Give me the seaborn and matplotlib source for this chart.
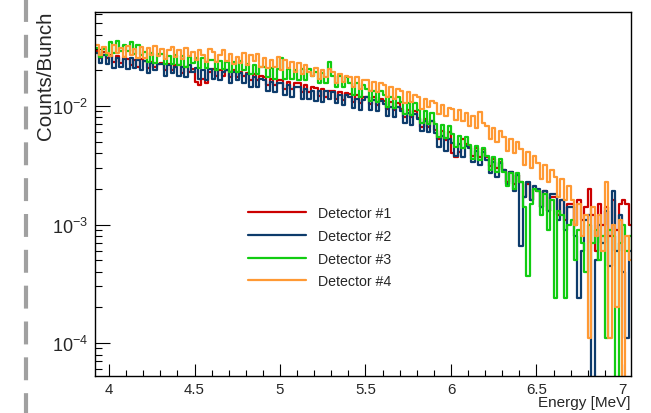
import numpy as np
import pandas as pd
import matplotlib
matplotlib.use("Agg")
import matplotlib.pyplot as plt
import matplotlib.ticker as mticker
from matplotlib.lines import Line2D
import seaborn as sns

# binning of the spectra (MeV)
bin_start = 3.92
bin_width = 0.02

# counts/bunch per bin, in units of 1e-3
det1 = [
    29, 25.5, 28.5, 25.5,
    27, 23.5, 26.5, 23, 26,
    25, 22, 24.5, 21.5, 25,
    24, 21, 23.5, 21.5, 22.5,
    23, 20, 22.5, 20, 22,
    22, 19, 21.5, 19.5, 20.5,
    16, 15, 17, 15.5, 19.5,
    20.5, 18, 20, 18, 20,
    17.5, 20, 17.5, 19.5, 18,
    19, 16.5, 18.5, 16.5, 18,
    17.5, 15, 17, 15, 16.5,
    16.5, 14, 16, 14, 15.5,
    15.5, 13, 15, 13, 14.5,
    14.3, 12.2, 14, 12, 13.5,
    13.4, 11.5, 13, 11.3, 12.8,
    12.6, 10.8, 12.3, 10.6, 12,
    12, 10.4, 11.8, 10.2, 11.5,
    11, 9.4, 10.8, 9.2, 10.5,
    9.5, 8.1, 9.3, 8, 9.1,
    7.9, 6.7, 7.7, 6.6, 7.5,
    6.3, 5.3, 6.1, 5.2, 6,
    4, 3.7, 4.1, 5.3, 4.8,
    4.6, 3.8, 4.4, 3.7, 4.3,
    3.7, 3.1, 3.6, 3, 3.4,
    2.9, 2.3, 2.8, 2.2, 2.6,
    2.3, 1.7, 2.2, 1.6, 2,
    1.9, 1.4, 1.9, 1.3, 1.7,
    1.7, 1.2, 1.6, 1.1, 1.5,
    1.5, 1.0, 1.6, 1.1, 1.4,
    2.0, 1.2, 0.6, 1.5, 1.0,
    1.4, 0.8, 1.6, 0.9, 1.5,
    1.6, 1.5, 1.0,
]
det2 = [
    28, 23, 27, 22.5,
    26.5, 21, 25.5, 21.5, 25,
    20.5, 25.5, 21, 24.5, 20,
    24, 19, 23, 20, 22.5,
    22.5, 18, 22, 19, 21.5,
    18, 21.5, 17.5, 22, 19.5,
    21, 17, 20, 16.5, 20.5,
    17, 20.5, 16.5, 19.5, 20,
    15.5, 19.5, 16.5, 19, 15.5,
    18.5, 14.5, 17.5, 14.5, 17,
    16.5, 13.5, 16, 13, 15.5,
    15.5, 12.5, 15, 12, 14.5,
    14.5, 11.5, 14, 11.5, 13.5,
    11, 13.5, 10.8, 13.5, 11.5,
    13, 10.5, 12.5, 10.2, 12.5,
    12, 9.6, 11.5, 9.3, 11.2,
    11.8, 9.3, 11.2, 9.1, 11,
    10.4, 8.2, 9.8, 8, 9.9,
    9, 7.2, 8.7, 6.9, 8.6,
    7.8, 6.2, 7.5, 6, 7.4,
    5.9, 4.5, 5.6, 4.2, 5.3,
    4.9, 3.8, 4.8, 3.7, 4.6,
    4.4, 3.4, 4.2, 3.2, 4.1,
    3.5, 2.7, 3.4, 2.5, 3.3,
    2.9, 2.2, 2.8, 1.9, 2.6,
    0.66, 1.7, 2.3, 1.6, 2.1,
    2.0, 1.4, 1.9, 1.3, 1.8,
    1.8, 1.1, 1.6, 0.9, 1.4,
    1.4, 0.8, 0.24, 0.6, 1.1,
    1.2, 0, 0.5, 1.0, 0.7,
    1.3, 0.45, 1.9, 0.6, 1.2,
    0.4, 0.11, 0.6,
]
det3 = [
    31, 26, 30.5, 27,
    34.5, 28, 35.5, 29, 33,
    29, 35, 27.5, 33, 27,
    28.5, 23.5, 28, 23, 27.5,
    27.5, 22.5, 26.5, 22.5, 27,
    22, 26.5, 21.5, 26, 23,
    25.5, 21, 25.5, 21, 24.5,
    24.5, 20, 24, 20.5, 23.5,
    19.5, 23.5, 19.5, 24, 20,
    22.5, 18.5, 22, 18.5, 21.5,
    21.5, 17.5, 21, 17, 20.5,
    25.5, 17, 20.5, 17, 20,
    16.5, 20.5, 16.5, 20.5, 18,
    19.5, 15.5, 19, 15.5, 23.5,
    18, 14.5, 18, 14.5, 17.5,
    15.5, 12.5, 15.5, 12, 15,
    14, 11, 13.5, 10.8, 13.5,
    12.5, 9.8, 12, 9.6, 11.8,
    10.8, 8.5, 10.5, 8.4, 10.5,
    9.2, 7.2, 9, 7, 8.8,
    7.1, 5.5, 6.9, 5.4, 6.8,
    5.8, 4.5, 5.6, 4.4, 5.5,
    4.7, 3.6, 4.6, 3.5, 4.4,
    3.8, 2.9, 3.7, 2.8, 3.6,
    2.8, 2.1, 2.7, 2.0, 2.7,
    2.3, 1.4, 0.37, 1.5, 2.0,
    1.9, 1.2, 1.8, 0.9, 1.6,
    0.24, 1.3, 1.2, 0.24, 1.0,
    1.1, 0.5, 0.9, 0.7, 0.4,
    1.0, 0.7, 0.9, 0.5, 0.8,
    0.11, 0.9, 0.8, 0, 0.7,
    1.0, 0.6, 0.8,
]
det4 = [
    33, 27, 31.5, 28,
    26.5, 32.5, 28, 31, 26,
    32, 27, 30.5, 25.5, 31.5,
    25.5, 31, 27, 32, 26.5,
    30.5, 25, 29.5, 31.5, 26,
    29.5, 25, 31, 26.5, 28.5,
    24.5, 29.5, 27, 23.5, 30,
    28.5, 23.5, 27, 29.5, 24,
    27.5, 22.5, 26, 23, 28,
    22, 27, 24, 27.5, 21.5,
    25.5, 21, 24.5, 21.5, 26,
    20, 24.5, 21, 23.5, 19.5,
    23, 18.5, 22, 19.5, 18,
    21, 17, 20, 17.5, 20.5,
    19.5, 15.5, 18.5, 16, 18,
    17.5, 14.5, 17.5, 14, 16.5,
    16.5, 13.5, 16, 13, 15.5,
    15, 12, 14.5, 11.5, 14,
    13.5, 10.5, 13, 10.8, 12.5,
    12, 9.5, 11.5, 9.8, 11,
    10.5, 8.5, 10.2, 8.2, 9.6,
    9.4, 7.6, 9.2, 7.4, 8.8,
    6.8, 8.2, 6.5, 8.9, 7.2,
    6.8, 5.3, 6.5, 5, 6.2,
    5.5, 4.2, 5.3, 4, 5,
    4.3, 3.2, 4.1, 3, 3.8,
    3.3, 2.4, 3.2, 2.3, 2.9,
    2.5, 1.7, 2.4, 1.6, 2.1,
    1.6, 1.0, 1.5, 0.8, 1.2,
    0.11, 1.4, 0.8, 1.2, 0.6,
    2.3, 0.11, 1.0, 0.2, 1.1,
    0, 0.8, 0.5,
]

labels = ["Detector #1", "Detector #2", "Detector #3", "Detector #4"]
colors = ["#cc0000", "#0d3b6b", "#11cc11", "#ff9933"]

n_bins = len(det1)
edges = bin_start + bin_width * np.arange(n_bins + 1)
centers = edges[:-1] + bin_width / 2

frames = []
for label, vals in zip(labels, [det1, det2, det3, det4]):
    frames.append(pd.DataFrame({"energy": centers,
                                "counts": np.array(vals) * 1e-3,
                                "detector": label}))
df = pd.concat(frames, ignore_index=True)

sns.set_theme(style="white")
plt.rcParams["font.family"] = ["Liberation Sans", "DejaVu Sans"]
plt.rcParams["mathtext.fontset"] = "custom"
plt.rcParams["mathtext.rm"] = "Liberation Sans"
plt.rcParams["mathtext.it"] = "Liberation Sans:italic"
plt.rcParams["mathtext.bf"] = "Liberation Sans:bold"

W, H = 651, 414
fig = plt.figure(figsize=(W / 100, H / 100), dpi=100)
fig.patch.set_facecolor("white")
ax = fig.add_axes([95 / W, 1 - 377 / H, 536 / W, 364 / H])

for label, color in zip(labels, colors):
    sns.histplot(data=df[df["detector"] == label], x="energy", weights="counts",
                 bins=list(edges), element="step", fill=False, color=color,
                 linewidth=1.6, ax=ax)

ax.set_yscale("log")
ax.set_xlim(3.918, 7.053)
ax.set_ylim(5.27e-5, 0.0621)
ax.set_xlabel("")
ax.set_ylabel("")

ax.xaxis.set_major_locator(mticker.MultipleLocator(0.5))
ax.xaxis.set_minor_locator(mticker.MultipleLocator(0.1))
ax.xaxis.set_major_formatter(mticker.FuncFormatter(lambda v, p: f"{v:g}"))
ax.yaxis.set_major_locator(mticker.LogLocator(base=10))
ax.yaxis.set_minor_locator(mticker.LogLocator(base=10, subs=np.arange(2, 10)))
ax.yaxis.set_minor_formatter(mticker.NullFormatter())

ax.tick_params(which="both", direction="in", left=True, bottom=True,
               top=False, right=False, color="black", width=0.8)
ax.tick_params(axis="y", which="major", length=10.8, labelsize=13, pad=5)
ax.tick_params(axis="y", which="minor", length=5)
ax.tick_params(axis="x", which="major", length=8.6, labelsize=10.8, pad=4)
ax.tick_params(axis="x", which="minor", length=4.3)
for sp in ax.spines.values():
    sp.set_visible(True)
    sp.set_color("black")
    sp.set_linewidth(1.0)

fig.text(631 / W, 1 - 407 / H, "Energy [MeV]", ha="right", va="baseline",
         fontsize=11)
fig.text(46 / W, 1 - 12 / H, "Counts/Bunch", rotation=90, ha="center",
         va="top", fontsize=14.8)

handles = [Line2D([], [], color=c, lw=1.6) for c in colors]
ax.legend(handles, labels, loc="upper left", bbox_to_anchor=(248 / W, 1 - 207 / H),
          bbox_transform=fig.transFigure, frameon=False, fontsize=10.2,
          handlelength=4.1, handletextpad=0.85, labelspacing=0.62,
          borderpad=0, borderaxespad=0)

# grey dashed slide border on the left
fig.add_artist(Line2D([26 / W, 26 / W], [1, 0], transform=fig.transFigure,
                      color="#a0a0a0", lw=3, dashes=(5.5, 3.1),
                      solid_capstyle="butt", dash_capstyle="butt"))

fig.savefig("out.png", dpi=100)
